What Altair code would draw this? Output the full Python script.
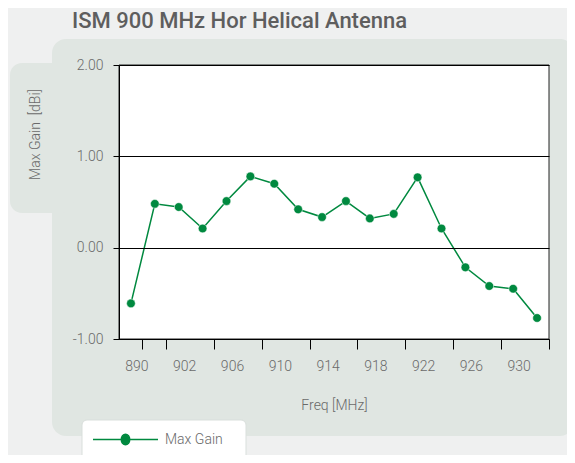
import altair as alt
import pandas as pd

# ---- data ----
freqs = [890, 900, 902, 904, 906, 908, 910, 912, 914, 916, 918, 920, 922, 924, 926, 928, 930, 932]
gain = [-0.61, 0.48, 0.445, 0.21, 0.51, 0.78, 0.70, 0.42, 0.335, 0.51, 0.32, 0.37, 0.77, 0.21, -0.215, -0.42, -0.45, -0.77]
series = ["Max Gain"] * len(freqs)
x_label_values = [890, 902, 906, 910, 914, 918, 922, 926, 930]
y_ticks = [-1, 0, 1, 2]

df = pd.DataFrame({"freq": freqs, "gain": gain, "series": series})

GREEN = "#00893f"
PANEL = "#e0e6e2"
BG = "#eff0f0"
TXT = "#6a6a6a"
LABEL_FONT = "Roboto"
TITLE_FONT = "Roboto"

W, H = 430, 274
one = alt.Data(values=[{}])

def deco(x, x2, y, y2, fill, radius=0, stroke=None):
    kw = dict(fill=fill, cornerRadius=radius)
    if stroke:
        kw.update(stroke=stroke, strokeWidth=1)
    else:
        kw.update(strokeWidth=0)
    return alt.Chart(one).mark_rect(**kw).encode(
        x=alt.value(x), x2=alt.value(x2), y=alt.value(y), y2=alt.value(y2)
    )

panel = deco(-67, 455, -26, 371, PANEL, 14)
tab = deco(-109, -45, -2, 148, PANEL, 12)
legend_box = deco(-37, 127, 355, 398, "#ffffff", 5, "#d9dfdc")
plot_bg = deco(0, W, 0, H, "#ffffff", 0, "#222222")

x_scale = alt.Scale(type="band", paddingInner=0, paddingOuter=0)

y_enc = alt.Y(
    "gain:Q",
    scale=alt.Scale(domain=[-1, 2], nice=False, zero=False),
    axis=alt.Axis(
        values=y_ticks,
        labelExpr="replace(format(datum.value, '.2f'), '\u2212', '-')",
        title="Max Gain\u00a0\u00a0[dBi]",
        titleX=-84, titleY=69, titleAngle=270, titleAlign="center", titleBaseline="middle",
        titleFont=LABEL_FONT, titleFontSize=14, titleFontWeight=300, titleColor=TXT,
        labelFont=LABEL_FONT, labelFontSize=14, labelFontWeight=300, labelColor=TXT,
        labelPadding=10, tickSize=6, tickColor="#000000", domainColor="#000000",
        grid=True, gridColor="#000000", gridWidth=1, gridOpacity=1,
        zindex=1,
    ),
)

color_enc = alt.Color(
    "series:N",
    scale=alt.Scale(domain=["Max Gain"], range=[GREEN]),
    legend=alt.Legend(
        title=None, orient="none", legendX=-27, legendY=341,
        symbolType="M-1,0H1M-0.13,0A0.13,0.16 0 1,0 0.13,0A0.13,0.16 0 1,0 -0.13,0Z",
        symbolSize=4225, symbolStrokeWidth=1.5, symbolFillColor=GREEN, symbolStrokeColor=GREEN,
        labelFont=LABEL_FONT, labelFontSize=14, labelFontWeight=300, labelColor=TXT, labelOffset=6,
        padding=0,
    ),
)

line = alt.Chart(df).mark_line(strokeWidth=1.5).encode(
    x=alt.X(
        "freq:O", sort=None, scale=x_scale,
        axis=alt.Axis(
            orient="bottom", values=x_label_values, ticks=False, tickSize=0,
            labelAngle=0, labelPadding=20, labelOffset=6,
            labelFont=LABEL_FONT, labelFontSize=14, labelFontWeight=300, labelColor=TXT,
            domainColor="#000000", title="Freq [MHz]", titleY=66, titleBaseline="middle",
            titleFont=LABEL_FONT, titleFontSize=14, titleFontWeight=300, titleColor=TXT,
            grid=False, zindex=1,
        ),
    ),
    y=y_enc,
    color=color_enc,
)

points = alt.Chart(df).mark_point(filled=True, size=75, opacity=1, stroke="#ffffff", strokeWidth=0.5).encode(
    x=alt.X(
        "freq:O", sort=None, scale=x_scale,
        axis=alt.Axis(
            orient="bottom", values=freqs[1::2], bandPosition=1, tickExtra=True,
            labels=False, domain=False, ticks=True, tickSize=10, tickColor="#000000",
            title=None, grid=False, zindex=1,
        ),
    ),
    y=y_enc,
    fill=alt.Fill("series:N", scale=alt.Scale(domain=["Max Gain"], range=[GREEN]), legend=None),
)

chart = alt.layer(panel, tab, legend_box, plot_bg, line, points).resolve_axis(
    x="independent"
).properties(
    width=W, height=H,
    autosize=alt.AutoSizeParams(type="none"),
    padding={"left": 111, "top": 57, "right": 18, "bottom": 116},
    background=BG,
    title=alt.TitleParams(
        "ISM 900 MHz Hor Helical Antenna", anchor="start", frame="group", dx=-47, offset=6,
        font=TITLE_FONT, fontSize=22, fontWeight=500, color="#5e5e5e",
    ),
).configure_view(stroke=None)

chart.save("out.html", embed_options={"renderer": "svg", "actions": False})
